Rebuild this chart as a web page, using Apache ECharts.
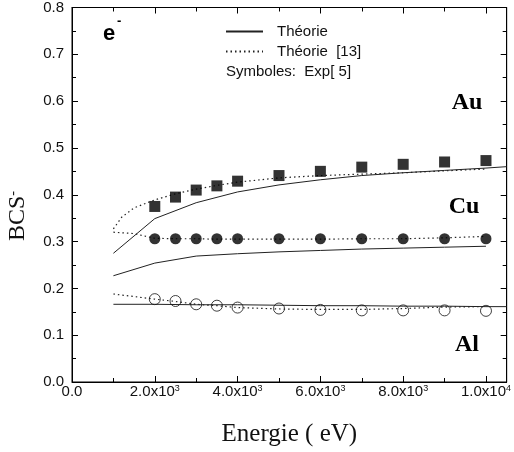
<!DOCTYPE html>
<html>
<head>
<meta charset="utf-8">
<script src="https://cdn.jsdelivr.net/npm/echarts/dist/echarts.min.js"></script>
<style>
  body { margin: 0; background: #fff; }
  #chart { width: 514px; height: 452px; }
</style>
</head>
<body>
<div id="chart"></div>
<script type="text/javascript">
    // energies (eV)
    var energyTheo = [1000, 2000, 3000, 4000, 5000, 6000, 7000, 8000, 9000, 10000, 10500];
    var energyTheoCu = [1000, 2000, 3000, 4000, 5000, 6000, 7000, 8000, 9000, 10000];
    var energyRef13Au = [1000, 1200, 1500, 2000, 2500, 3000, 3500, 4000, 5000, 6000, 7000, 8000, 9000, 10000];
    var energyRef13Cu = [1000, 1500, 2000, 2500, 3000, 3500, 4000, 5000, 6000, 7000, 8000, 9000, 10000];
    var energyRef13Al = [1000, 2000, 2500, 3000, 3500, 4000, 5000, 6000, 7000, 8000, 9000, 10000];
    var energyExp = [2000, 2500, 3000, 3500, 4000, 5000, 6000, 7000, 8000, 9000, 10000];

    // Théorie (solid)
    var theoAu = [0.275, 0.349, 0.383, 0.406, 0.421, 0.432, 0.441, 0.447, 0.452, 0.457, 0.460];
    var theoCu = [0.227, 0.254, 0.269, 0.274, 0.278, 0.281, 0.284, 0.286, 0.288, 0.290];
    var theoAl = [0.166, 0.166, 0.165, 0.165, 0.164, 0.163, 0.163, 0.162, 0.162, 0.161, 0.161];

    // Théorie [13] (dotted)
    var ref13Au = [0.327, 0.352, 0.372, 0.389, 0.402, 0.412, 0.420, 0.427, 0.436, 0.441, 0.444, 0.447, 0.451, 0.455];
    var ref13Cu = [0.320, 0.317, 0.307, 0.306, 0.306, 0.305, 0.305, 0.305, 0.305, 0.306, 0.306, 0.308, 0.311];
    var ref13Al = [0.188, 0.177, 0.172, 0.166, 0.163, 0.159, 0.156, 0.155, 0.155, 0.157, 0.160, 0.161];

    // Exp [5] (symbols)
    var expAu = [0.375, 0.395, 0.410, 0.419, 0.429, 0.441, 0.450, 0.459, 0.465, 0.470, 0.473];
    var expCu = [0.306, 0.306, 0.306, 0.306, 0.306, 0.306, 0.306, 0.306, 0.306, 0.306, 0.306];
    var expAl = [0.177, 0.173, 0.166, 0.163, 0.159, 0.157, 0.154, 0.153, 0.153, 0.153, 0.152];

    var xTicks = {0: '{m|0.0}', 2000: '{m|2.0x10}{s|3}', 4000: '{m|4.0x10}{s|3}', 6000: '{m|6.0x10}{s|3}',
                  8000: '{m|8.0x10}{s|3}', 10000: '{m|1.0x10}{s|4}'};

    function zip(xs, ys) {
        return xs.map(function (x, i) { return [x, ys[i]]; });
    }

    var sansFont = 'Liberation Sans, Arial, sans-serif';
    var serifFont = 'Liberation Serif, Times New Roman, serif';
    var dotted = [1.5, 3];

    function solid(data) {
        return { name: 'Théorie', type: 'line', data: data, symbol: 'none', z: 2,
                 itemStyle: { color: '#222' },
                 lineStyle: { color: '#222', width: 1 } };
    }
    function dots(data) {
        return { name: 'Théorie  [13]', type: 'line', data: data, symbol: 'none', z: 2,
                 itemStyle: { color: '#222' },
                 lineStyle: { color: '#222', width: 1.2, type: dotted } };
    }
    function marks(data, symbol, filled) {
        return { name: 'Exp', type: 'scatter', data: data, symbol: symbol, symbolSize: 11, z: 3,
                 itemStyle: filled ? { color: '#000' } : { color: 'rgba(0,0,0,0)', borderColor: '#111', borderWidth: 1 } };
    }

    function axisCommon() {
        return {
            axisLine: { show: true, onZero: false, lineStyle: { color: '#000', width: 1 } },
            axisTick: { show: true, inside: true, length: 6, lineStyle: { color: '#000' } },
            minorTick: { show: true, splitNumber: 2, length: 4, lineStyle: { color: '#000' } },
            splitLine: { show: false }
        };
    }

    var chart = echarts.init(document.getElementById('chart'));

    var option = {
        animation: false,
        backgroundColor: '#fff',
        grid: { left: 72, right: 5, top: 7, bottom: 70, show: true, borderColor: '#000', borderWidth: 1 },
        legend: {
            data: ['Théorie', 'Théorie  [13]'],
            orient: 'vertical',
            left: 225, top: 24,
            padding: 0,
            itemWidth: 37, itemHeight: 14, itemGap: 5,
            itemStyle: { opacity: 0 },
            textStyle: { fontFamily: sansFont, fontSize: 15, color: '#111', padding: [0, 0, 0, 9] }
        },
        xAxis: [
            Object.assign({
                type: 'value', min: 0, max: 10500, interval: 2000,
                name: 'Energie ( eV)', nameLocation: 'middle', nameGap: 40,
                nameTextStyle: { fontFamily: serifFont, fontSize: 25, color: '#111' },
                axisLabel: {
                    margin: 2, showMaxLabel: false,
                    fontFamily: sansFont, fontSize: 15, color: '#111',
                    formatter: function (v) { return xTicks[v] || ''; },
                    rich: {
                        m: { fontFamily: sansFont, fontSize: 15, color: '#111' },
                        s: { fontFamily: sansFont, fontSize: 9, color: '#111', padding: [0, 0, 7, 0] }
                    }
                }
            }, axisCommon()),
            Object.assign({
                type: 'value', min: 0, max: 10500, interval: 2000, position: 'top',
                axisLabel: { show: false }
            }, axisCommon())
        ],
        yAxis: [
            Object.assign({
                type: 'value', min: 0, max: 0.8, interval: 0.1,
                axisLabel: { margin: 8, fontFamily: sansFont, fontSize: 15, color: '#111',
                             formatter: function (v) { return v.toFixed(1); } }
            }, axisCommon()),
            Object.assign({
                type: 'value', min: 0, max: 0.8, interval: 0.1, position: 'right',
                axisLabel: { show: false }
            }, axisCommon())
        ],
        graphic: [
            { type: 'text', x: 103, y: 34, style: { text: 'e', fontFamily: sansFont, fontWeight: 'bold', fontSize: 22,
              fill: '#000', textVerticalAlign: 'middle' } },
            { type: 'text', x: 117, y: 21, style: { text: '-', fontFamily: sansFont, fontWeight: 'bold', fontSize: 13,
              fill: '#000', textVerticalAlign: 'middle' } },
            { type: 'text', x: 226, y: 72, style: { text: 'Symboles:  Exp[ 5]', fontFamily: sansFont, fontSize: 15,
              fill: '#111', textVerticalAlign: 'middle' } },
            { type: 'text', x: 467, y: 103, style: { text: 'Au', fontFamily: serifFont, fontWeight: 'bold', fontSize: 24,
              fill: '#000', textAlign: 'center', textVerticalAlign: 'middle' } },
            { type: 'text', x: 464, y: 207, style: { text: 'Cu', fontFamily: serifFont, fontWeight: 'bold', fontSize: 24,
              fill: '#000', textAlign: 'center', textVerticalAlign: 'middle' } },
            { type: 'text', x: 467, y: 345, style: { text: 'Al', fontFamily: serifFont, fontWeight: 'bold', fontSize: 24,
              fill: '#000', textAlign: 'center', textVerticalAlign: 'middle' } },
            { type: 'text', x: 18, y: 216, rotation: Math.PI / 2,
              style: { text: '{m|BCS}{s|-}', textAlign: 'center', textVerticalAlign: 'middle',
                       rich: { m: { fontFamily: serifFont, fontSize: 24, fill: '#111' },
                               s: { fontFamily: serifFont, fontSize: 14, fill: '#111', padding: [0, 0, 10, 0] } } } }
        ],
        series: [
            solid(zip(energyTheo, theoAu)),
            solid(zip(energyTheoCu, theoCu)),
            solid(zip(energyTheo, theoAl)),
            dots(zip(energyRef13Au, ref13Au)),
            dots(zip(energyRef13Cu, ref13Cu)),
            dots(zip(energyRef13Al, ref13Al)),
            marks(zip(energyExp, expAu), 'rect', true),
            marks(zip(energyExp, expCu), 'circle', true),
            marks(zip(energyExp, expAl), 'circle', false)
        ]
    };
    chart.setOption(option);
</script>
</body>
</html>
